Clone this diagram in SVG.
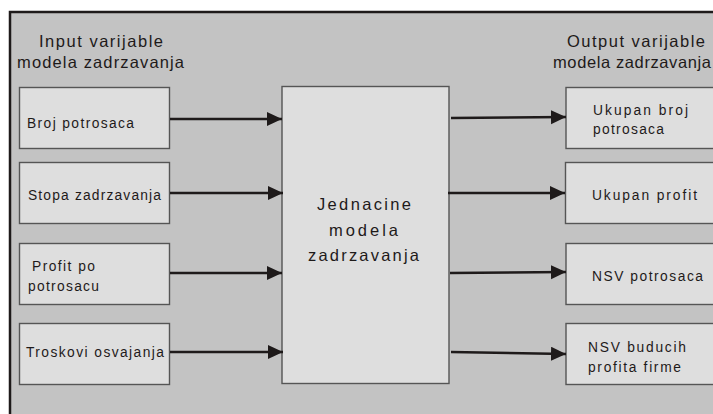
<svg xmlns="http://www.w3.org/2000/svg" width="713" height="414" viewBox="0 0 713 414">
<defs>
<style>
.bg{fill:#c3c3c3;stroke:#1e1a1a;stroke-width:2.5}
.box{fill:#dedede;stroke:#555;stroke-width:1.4}
.t{font-family:"Liberation Sans",Arial,sans-serif;fill:#1e1a1a}
.s{font-size:13.8px}
.h{font-size:16.5px}
.c{font-size:16.5px}
.ar{stroke:#1e1a1a;stroke-width:2.4;fill:none;marker-end:url(#ah)}
</style>
<marker id="ah" markerUnits="userSpaceOnUse" markerWidth="16" markerHeight="15" refX="15" refY="7" orient="auto">
<path d="M0,0 L15,7 L0,14 z" fill="#1e1a1a"/>
</marker>
</defs>
<rect class="bg" x="10" y="12" width="720" height="420"/>
<text class="t h" x="39" y="47" textLength="124" lengthAdjust="spacing">Input varijable</text>
<text class="t h" x="17" y="68" textLength="167" lengthAdjust="spacing">modela zadrzavanja</text>
<text class="t h" x="567" y="47" textLength="138" lengthAdjust="spacing">Output varijable</text>
<text class="t h" x="553" y="68" textLength="158" lengthAdjust="spacing">modela zadrzavanja</text>

<g id="in1"><rect class="box" x="19.5" y="87.5" width="150" height="61"/>
<text class="t s" x="27" y="128" textLength="107" lengthAdjust="spacing">Broj potrosaca</text></g>
<g id="in2"><rect class="box" x="19.5" y="162.5" width="150" height="61"/>
<text class="t s" x="28" y="200" textLength="133" lengthAdjust="spacing">Stopa zadrzavanja</text></g>
<g id="in3"><rect class="box" x="19.5" y="243.5" width="150" height="61"/>
<text class="t s" x="32" y="271" textLength="63" lengthAdjust="spacing">Profit po</text>
<text class="t s" x="28" y="291" textLength="71" lengthAdjust="spacing">potrosacu</text></g>
<g id="in4"><rect class="box" x="19.5" y="323.5" width="150" height="61"/>
<text class="t s" x="26" y="357" textLength="138" lengthAdjust="spacing">Troskovi osvajanja</text></g>

<g id="model"><rect class="box" x="282" y="86.5" width="167" height="297"/>
<text class="t c" x="317" y="210" textLength="94" lengthAdjust="spacing">Jednacine</text>
<text class="t c" x="329" y="236" textLength="69" lengthAdjust="spacing">modela</text>
<text class="t c" x="308" y="261" textLength="111" lengthAdjust="spacing">zadrzavanja</text></g>

<g id="out1"><rect class="box" x="566" y="87.5" width="160" height="61"/>
<text class="t s" x="593" y="115" textLength="95" lengthAdjust="spacing">Ukupan broj</text>
<text class="t s" x="593" y="134" textLength="71" lengthAdjust="spacing">potrosaca</text></g>
<g id="out2"><rect class="box" x="565.5" y="162.5" width="160" height="61"/>
<text class="t s" x="592" y="200" textLength="105" lengthAdjust="spacing">Ukupan profit</text></g>
<g id="out3"><rect class="box" x="566" y="243.5" width="160" height="61"/>
<text class="t s" x="592" y="281" textLength="111" lengthAdjust="spacing">NSV potrosaca</text></g>
<g id="out4"><rect class="box" x="566" y="323.5" width="160" height="61"/>
<text class="t s" x="588" y="352" textLength="98" lengthAdjust="spacing">NSV buducih</text>
<text class="t s" x="588" y="372" textLength="93" lengthAdjust="spacing">profita firme</text></g>

<g id="connectors">
<line class="ar" x1="170" y1="119" x2="282" y2="119"/>
<line class="ar" x1="170" y1="193" x2="283" y2="193"/>
<line class="ar" x1="170" y1="273" x2="282" y2="273"/>
<line class="ar" x1="170" y1="352" x2="283" y2="352"/>
<line class="ar" x1="451" y1="118" x2="566" y2="117"/>
<line class="ar" x1="448" y1="193" x2="565" y2="193"/>
<line class="ar" x1="450" y1="273" x2="566" y2="272"/>
<line class="ar" x1="451" y1="352" x2="566" y2="354"/>
</g>
</svg>
